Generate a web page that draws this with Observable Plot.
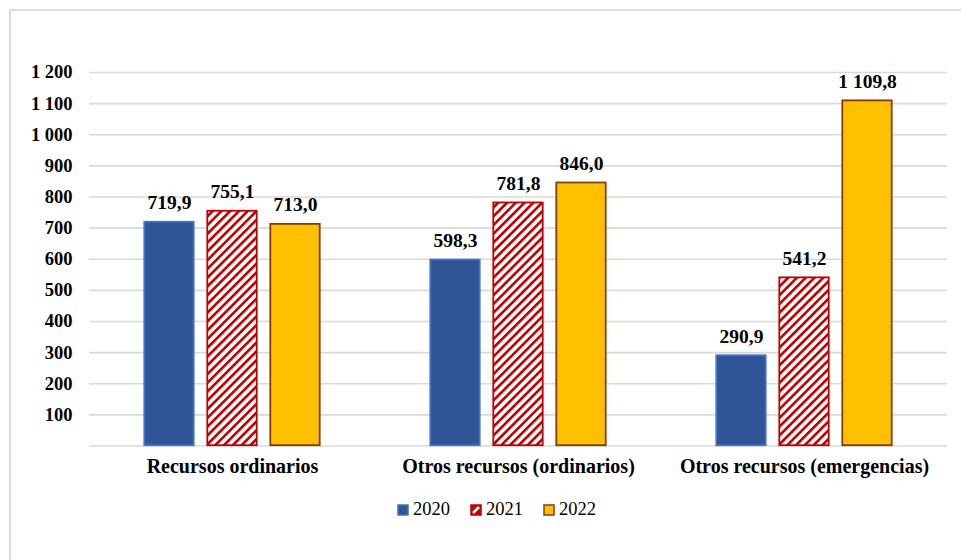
<!DOCTYPE html>
<html>
<head>
<meta charset="utf-8">
<script src="https://cdn.jsdelivr.net/npm/d3@7"></script>
<script src="https://cdn.jsdelivr.net/npm/@observablehq/plot@0.6"></script>
<style>
  html, body { margin: 0; padding: 0; background: #fff; }
  body { width: 961px; height: 560px; position: relative; overflow: hidden; font-family: "Liberation Serif", "Times New Roman", serif; }
  #frame { position: absolute; left: 9px; top: 9px; width: 1000px; height: 600px; border-left: 2px solid #d9d9d9; border-top: 2px solid #d9d9d9; }
  #chart { position: absolute; left: 0; top: 0; }
  #legend { position: absolute; left: 397px; top: 499px; display: flex; align-items: center; font-size: 18.5px; color: #000; font-family: "Liberation Serif", "Times New Roman", serif; }
  #legend .item { display: flex; align-items: center; margin-right: 20px; }
  #legend svg { margin-right: 4px; }
</style>
</head>
<body>
<div id="frame"></div>
<div id="chart"></div>
<div id="legend"></div>
<script>
const categories = ["Recursos ordinarios", "Otros recursos (ordinarios)", "Otros recursos (emergencias)"];
const years = ["2020", "2021", "2022"];
const values2020 = [719.9, 598.3, 290.9];
const values2021 = [755.1, 781.8, 541.2];
const values2022 = [713.0, 846.0, 1109.8];
const yTicks = [100, 200, 300, 400, 500, 600, 700, 800, 900, 1000, 1100, 1200];
const gridValues = [0, 100, 200, 300, 400, 500, 600, 700, 800, 900, 1000, 1100, 1200];

const fills = {"2020": "#2f5597", "2021": "url(#hatch2021)", "2022": "#ffc000"};
const strokes = {"2020": "#4472c4", "2021": "#c00000", "2022": "#843c0c"};

const seriesValues = {"2020": values2020, "2021": values2021, "2022": values2022};
const rows = years.flatMap(y => categories.map((c, i) => ({cat: c, year: y, value: seriesValues[y][i]})));

const loc = d3.formatLocale({decimal: ",", thousands: " ", grouping: [3], currency: ["", ""]});
const fmtVal = loc.format(",.1f");
const fmtTick = loc.format(",d");

const serif = "'Liberation Serif', 'Times New Roman', serif";

const plot = Plot.plot({
  width: 961,
  height: 486,
  marginTop: 72,
  marginBottom: 40.5,
  marginLeft: 88,
  marginRight: 13,
  style: {fontFamily: serif, background: "transparent", color: "#000"},
  fx: {domain: categories, padding: 0},
  x: {domain: years, paddingInner: 0.205, paddingOuter: 0.86, axis: null},
  y: {domain: [0, 1200], axis: null},
  marks: [
    Plot.ruleY(gridValues, {stroke: "#d9d9d9", strokeWidth: 1.6}),
    ...years.map(yr => Plot.barY(rows.filter(r => r.year === yr), {
      fx: "cat", x: "year", y: "value",
      fill: fills[yr], stroke: strokes[yr], strokeWidth: 1.8, inset: 0.3
    })),
    Plot.text(rows, {
      fx: "cat", x: "year", y: "value", text: d => fmtVal(d.value),
      dy: -19, fontSize: 19.5, fontWeight: "bold", fill: "#000", fontFamily: serif
    }),
    Plot.axisY(yTicks, {
      tickSize: 0, tickPadding: 17, tickFormat: fmtTick,
      fontSize: 18.5, fontWeight: "bold", label: null, fontFamily: serif
    }),
    Plot.axisFx({
      anchor: "bottom", tickSize: 0, tickPadding: 13, label: null,
      fontSize: 20, fontWeight: "bold", fontFamily: serif
    })
  ]
});

const svg = d3.select(plot);
const defs = svg.insert("defs", ":first-child");
const pat = defs.append("pattern")
  .attr("id", "hatch2021")
  .attr("patternUnits", "userSpaceOnUse")
  .attr("width", 6.2).attr("height", 6.2)
  .attr("patternTransform", "rotate(45)");
pat.append("rect").attr("width", 6.2).attr("height", 6.2).attr("fill", "#fff");
pat.append("rect").attr("width", 2.6).attr("height", 6.2).attr("fill", "#c00000");

document.getElementById("chart").appendChild(plot);

// legend
const legend = d3.select("#legend");
years.forEach(yr => {
  const item = legend.append("div").attr("class", "item");
  const s = item.append("svg").attr("width", 12).attr("height", 12);
  if (yr === "2021") {
    const p = s.append("defs").append("pattern")
      .attr("id", "hatchLegend").attr("patternUnits", "userSpaceOnUse")
      .attr("width", 12).attr("height", 12);
    p.append("rect").attr("width", 12).attr("height", 12).attr("fill", "#c00000");
    p.append("path").attr("d", "M3,9 L9,3").attr("stroke", "#fff").attr("stroke-width", 2.5);
  }
  s.append("rect").attr("x", 1).attr("y", 1).attr("width", 10).attr("height", 10)
    .attr("fill", yr === "2021" ? "url(#hatchLegend)" : fills[yr])
    .attr("stroke", strokes[yr]).attr("stroke-width", 1.5);
  item.append("span").text(yr);
});
</script>
</body>
</html>
